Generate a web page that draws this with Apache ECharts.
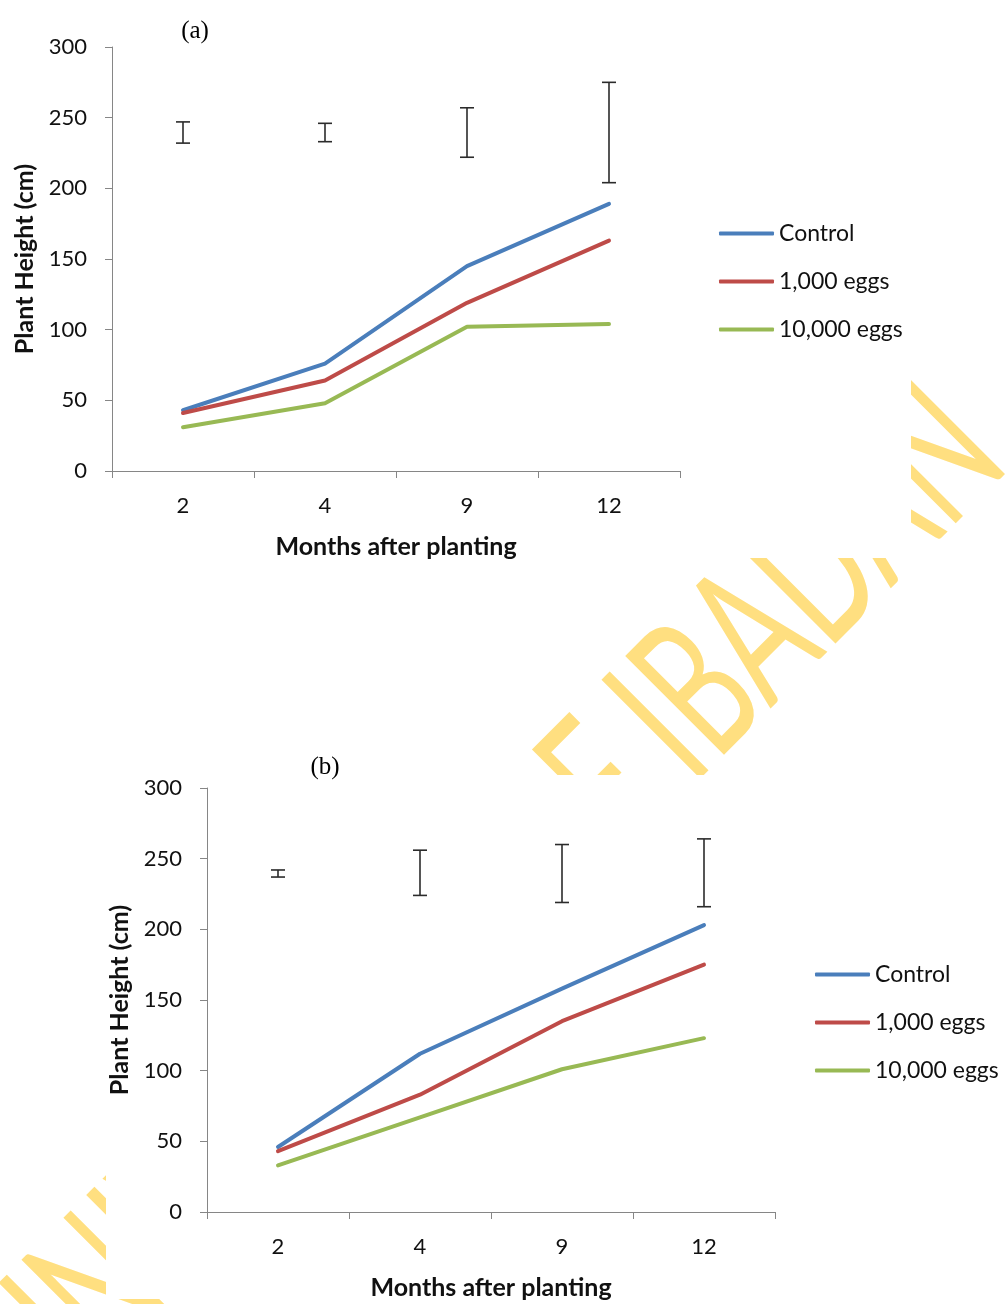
<!DOCTYPE html>
<html>
<head>
<meta charset="utf-8">
<script src="https://cdn.jsdelivr.net/npm/echarts@6/dist/echarts.min.js"></script>
<style>
  html, body { margin: 0; padding: 0; background: #fff; }
  #chart { width: 1006px; height: 1304px; }
</style>
</head>
<body>
<div id="chart"></div>
<script>
// Categories: months after planting
const months = ['2', '4', '9', '12'];
const seriesNames = ['Control', '1,000 eggs', '10,000 eggs'];
const seriesColors = ['#4A7EBB', '#BE4B48', '#98B954'];

// Panel (a): plant height (cm)
const controlA = [43, 76, 145, 189];
const eggs1kA = [41, 64, 119, 163];
const eggs10kA = [31, 48, 102, 104];
const errLowA = [232, 233, 222, 204];
const errHighA = [247, 246, 257, 275];

// Panel (b): plant height (cm)
const controlB = [46, 112, 158, 203];
const eggs1kB = [43, 83, 135, 175];
const eggs10kB = [33, 67, 101, 123];
const errLowB = [237, 224, 219, 216];
const errHighB = [242, 256, 260, 264];

// Value axis range
const yMin = 0, yMax = 300, yStep = 50;

const FONT = 'Lato, "Open Sans", sans-serif';
const AXIS_GREY = '#868686';
const TEXT = '#111';

function xAxisFor(gridIndex) {
  return {
    type: 'category', gridIndex, data: months, boundaryGap: true,
    axisLine: { lineStyle: { color: AXIS_GREY, width: 1 } },
    axisTick: { show: true, length: 7, lineStyle: { color: AXIS_GREY } },
    axisLabel: { fontSize: 22, color: TEXT, fontFamily: FONT, margin: 24 },
    splitLine: { show: false },
    name: 'Months after planting', nameLocation: 'middle', nameGap: 63,
    nameTextStyle: { fontSize: 25, fontWeight: 'bold', color: TEXT, fontFamily: FONT }
  };
}
function yAxisFor(gridIndex) {
  return {
    type: 'value', gridIndex, min: yMin, max: yMax, interval: yStep,
    axisLine: { show: true, lineStyle: { color: AXIS_GREY, width: 1 } },
    axisTick: { show: true, length: 7, lineStyle: { color: AXIS_GREY } },
    axisLabel: { fontSize: 22, color: TEXT, fontFamily: FONT, margin: 25 },
    splitLine: { show: false },
    name: 'Plant Height (cm)', nameLocation: 'middle', nameGap: 75,
    nameTextStyle: { fontSize: 25, fontWeight: 'bold', color: TEXT, fontFamily: FONT }
  };
}
function lineSeries(name, data, color, idx) {
  return {
    type: 'line', name, data, xAxisIndex: idx, yAxisIndex: idx,
    symbol: 'none', smooth: false, color,
    lineStyle: { width: 4, color, cap: 'round', join: 'round' },
    z: 3
  };
}
// I-shaped range marks drawn from low/high values
function errorSeries(low, high, idx) {
  return {
    type: 'custom', name: 'range' + idx, xAxisIndex: idx, yAxisIndex: idx,
    data: months.map((m, i) => [i, low[i], high[i]]),
    encode: { x: 0, y: [1, 2] },
    renderItem: function (params, api) {
      const top = api.coord([api.value(0), api.value(2)]);
      const bot = api.coord([api.value(0), api.value(1)]);
      const half = 7;
      const st = { stroke: '#2b2b2b', lineWidth: 1.6 };
      return {
        type: 'group',
        children: [
          { type: 'line', shape: { x1: top[0], y1: top[1], x2: bot[0], y2: bot[1] }, style: st },
          { type: 'line', shape: { x1: top[0] - half, y1: top[1], x2: top[0] + half, y2: top[1] }, style: st },
          { type: 'line', shape: { x1: bot[0] - half, y1: bot[1], x2: bot[0] + half, y2: bot[1] }, style: st }
        ]
      };
    },
    z: 3
  };
}
function legendAt(left, top) {
  return {
    orient: 'vertical', left, top, padding: 0, data: seriesNames,
    icon: 'roundRect', itemWidth: 55, itemHeight: 4, itemGap: 25,
    selectedMode: false,
    textStyle: { fontSize: 23, color: TEXT, fontFamily: FONT }
  };
}

const chart = echarts.init(document.getElementById('chart'), null, { renderer: 'canvas' });
chart.setOption({
  backgroundColor: '#fff',
  animation: false,
  grid: [
    { left: 112, top: 47, width: 568, height: 424, containLabel: false },
    { left: 207, top: 788, width: 568, height: 424, containLabel: false }
  ],
  xAxis: [xAxisFor(0), xAxisFor(1)],
  yAxis: [yAxisFor(0), yAxisFor(1)],
  legend: [legendAt(719, 222), legendAt(815, 963)],
  graphic: [
    // library watermark, partly covered by the two white plot panels
    {
      type: 'text', x: 487, y: 903, rotation: Math.PI / 4, scaleX: 0.615, scaleY: 1, z: -20,
      silent: true,
      style: {
        text: 'UNIVERSITY OF IBADAN', font: 'normal 195px Lato', fill: '#FFDF80',
        textAlign: 'center', textVerticalAlign: 'middle', verticalAlign: 'middle'
      }
    },
    { type: 'rect', shape: { x: 0, y: 0, width: 911, height: 558 }, style: { fill: '#fff' }, z: -10, silent: true },
    { type: 'rect', shape: { x: 106, y: 775, width: 900, height: 524 }, style: { fill: '#fff' }, z: -10, silent: true },
    // panel captions
    { type: 'text', x: 195, y: 31, z: 10, style: { text: '(a)', font: '25px "Liberation Serif", serif', fill: '#000', textAlign: 'center', textVerticalAlign: 'middle', verticalAlign: 'middle' } },
    { type: 'text', x: 325, y: 767, z: 10, style: { text: '(b)', font: '25px "Liberation Serif", serif', fill: '#000', textAlign: 'center', textVerticalAlign: 'middle', verticalAlign: 'middle' } }
  ],
  series: [
    lineSeries(seriesNames[0], controlA, seriesColors[0], 0),
    lineSeries(seriesNames[1], eggs1kA, seriesColors[1], 0),
    lineSeries(seriesNames[2], eggs10kA, seriesColors[2], 0),
    errorSeries(errLowA, errHighA, 0),
    lineSeries(seriesNames[0], controlB, seriesColors[0], 1),
    lineSeries(seriesNames[1], eggs1kB, seriesColors[1], 1),
    lineSeries(seriesNames[2], eggs10kB, seriesColors[2], 1),
    errorSeries(errLowB, errHighB, 1)
  ]
});
</script>
</body>
</html>
